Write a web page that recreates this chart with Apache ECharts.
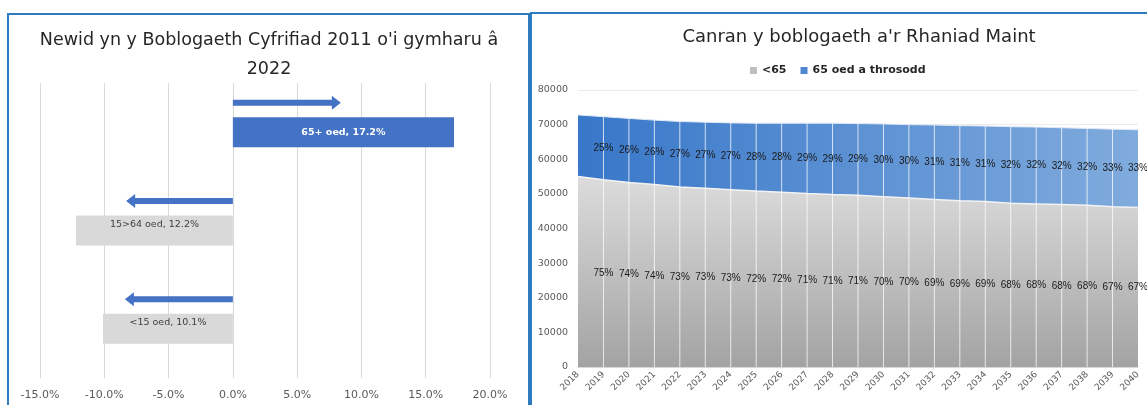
<!DOCTYPE html>
<html>
<head>
<meta charset="utf-8">
<script src="https://cdn.jsdelivr.net/npm/echarts@6/dist/echarts.min.js"></script>
<style>
  html, body { margin: 0; padding: 0; background: #fff; }
  #chart { width: 1147px; height: 405px; }
</style>
</head>
<body>
<div id="chart"></div>
<script>
// left chart: change 2011 -> 2022
const ageGroups = ['65+ oed', '15>64 oed', '<15 oed']
const changePct = [17.2, -12.2, -10.1]
const arrowEnds = [8.4, -8.3, -8.4]

// right chart: projected population
const years = ['2018', '2019', '2020', '2021', '2022', '2023', '2024', '2025', '2026', '2027', '2028', '2029',
  '2030', '2031', '2032', '2033', '2034', '2035', '2036', '2037', '2038', '2039', '2040']
const under65 = [55000, 54100, 53300, 52700, 52000, 51600, 51200, 50800, 50500, 50100, 49800, 49600,
  49200, 48800, 48400, 48000, 47800, 47300, 47100, 46900, 46700, 46300, 46100]
const over65 = [17800, 18200, 18500, 18600, 18900, 19100, 19300, 19600, 19900, 20300, 20600, 20700,
  21000, 21200, 21500, 21700, 21800, 22100, 22200, 22200, 22200, 22400, 22400]
const under65Labels = [null, '75%', '74%', '74%', '73%', '73%', '73%', '72%', '72%', '71%', '71%', '71%',
  '70%', '70%', '69%', '69%', '69%', '68%', '68%', '68%', '68%', '67%', '67%']
const over65Labels = [null, '25%', '26%', '26%', '27%', '27%', '27%', '28%', '28%', '29%', '29%', '29%',
  '30%', '30%', '31%', '31%', '31%', '32%', '32%', '32%', '32%', '33%', '33%']

const FONT = 'DejaVu Sans'
const chart = echarts.init(document.getElementById('chart'))

const barData = changePct.map(function (v, i) {
  const isUp = v > 0
  return {
    value: v,
    itemStyle: { color: isUp ? '#4472c4' : '#d9d9d9' },
    label: {
      show: true,
      position: 'inside',
      offset: isUp ? [0, 0] : [0, -6],
      color: isUp ? '#ffffff' : '#404040',
      fontWeight: isUp ? 'bold' : 'normal',
      fontFamily: FONT,
      fontSize: 9.5,
      formatter: ageGroups[i] + ', ' + Math.abs(v).toFixed(1) + '%',
    },
  }
})

const option = {
  animation: false,
  title: [
    {
      text: "Newid yn y Boblogaeth Cyfrifiad 2011 o'i gymharu â\n2022",
      left: 264,
      top: 21,
      textAlign: 'center',
      textStyle: { fontFamily: FONT, fontSize: 17.5, fontWeight: 'normal', color: '#262626', lineHeight: 29 },
    },
    {
      text: "Canran y boblogaeth a'r Rhaniad Maint",
      left: 854,
      top: 23,
      textAlign: 'center',
      textStyle: { fontFamily: FONT, fontSize: 18, fontWeight: 'normal', color: '#262626' },
    },
  ],
  legend: {
    left: 745,
    top: 60,
    icon: 'rect',
    itemWidth: 7,
    itemHeight: 7,
    itemGap: 14,
    data: ['<65', '65 oed a throsodd'],
    textStyle: { fontFamily: FONT, fontSize: 11, fontWeight: 'bold', color: '#262626' },
  },
  grid: [
    { left: 40, right: 1147 - 490, top: 83, bottom: 405 - 378 },
    { left: 578, right: 9, top: 90, bottom: 38 },
  ],
  xAxis: [
    {
      gridIndex: 0,
      type: 'value',
      min: -15,
      max: 20,
      interval: 5,
      axisLine: { show: false },
      axisTick: { show: false },
      splitLine: { lineStyle: { color: '#d9d9d9' } },
      axisLabel: {
        margin: 12,
        color: '#595959',
        fontFamily: FONT,
        fontSize: 11,
        formatter: function (v) { return v.toFixed(1) + '%' },
      },
    },
    {
      gridIndex: 1,
      type: 'category',
      data: years,
      boundaryGap: false,
      axisLine: { lineStyle: { color: '#d9d9d9' } },
      axisTick: { show: false },
      axisLabel: { rotate: 45, margin: 6, interval: 0, color: '#595959', fontFamily: FONT, fontSize: 9 },
    },
  ],
  yAxis: [
    {
      gridIndex: 0,
      type: 'category',
      data: ageGroups,
      inverse: true,
      axisLine: { show: false },
      axisTick: { show: false },
      axisLabel: { show: false },
    },
    {
      gridIndex: 1,
      type: 'value',
      min: 0,
      max: 80000,
      interval: 10000,
      axisLine: { show: false },
      axisTick: { show: false },
      splitLine: { lineStyle: { color: '#ebebeb' } },
      axisLabel: {
        margin: 10,
        color: '#595959',
        fontFamily: FONT,
        fontSize: 9.5,
        formatter: function (v) { return String(v) },
      },
    },
  ],
  series: [
    {
      name: 'change',
      type: 'bar',
      xAxisIndex: 0,
      yAxisIndex: 0,
      barWidth: 30,
      data: barData,
    },
    {
      name: 'arrows',
      type: 'custom',
      xAxisIndex: 0,
      yAxisIndex: 0,
      data: arrowEnds.map(function (v, i) { return [v, i] }),
      encode: { x: 0, y: 1 },
      renderItem: function (params, api) {
        const start = api.coord([0, api.value(1)])
        const end = api.coord([api.value(0), api.value(1)])
        const band = api.size([0, 1])[1]
        const y = start[1] - band * 0.3
        const dir = end[0] > start[0] ? 1 : -1
        const xb = end[0] - dir * 9
        return {
          type: 'polygon',
          shape: {
            points: [
              [start[0], y - 3], [xb, y - 3], [xb, y - 7], [end[0], y],
              [xb, y + 7], [xb, y + 3], [start[0], y + 3],
            ],
          },
          style: { fill: '#4472c4' },
        }
      },
    },
    {
      name: '<65',
      type: 'line',
      xAxisIndex: 1,
      yAxisIndex: 1,
      stack: 'pop',
      symbol: 'none',
      data: under65,
      itemStyle: { color: '#bfbfbf' },
      lineStyle: { color: '#f2f2f2', width: 1.5 },
      areaStyle: {
        opacity: 1,
        color: new echarts.graphic.LinearGradient(0, 0, 0, 1, [
          { offset: 0, color: '#dcdcdc' },
          { offset: 1, color: '#a3a3a3' },
        ]),
      },
      z: 3,
    },
    {
      name: '65 oed a throsodd',
      type: 'line',
      xAxisIndex: 1,
      yAxisIndex: 1,
      stack: 'pop',
      symbol: 'none',
      data: over65,
      itemStyle: { color: '#4f86d0' },
      lineStyle: { color: '#dfe8f5', width: 1 },
      areaStyle: {
        opacity: 1,
        color: new echarts.graphic.LinearGradient(0, 0, 1, 0, [
          { offset: 0, color: '#3877c9' },
          { offset: 1, color: '#80abdd' },
        ]),
      },
      z: 2,
    },
    {
      name: 'dividers',
      type: 'custom',
      xAxisIndex: 1,
      yAxisIndex: 1,
      data: years.map(function (y, i) { return [i, under65[i] + over65[i]] }),
      encode: { x: 0, y: 1 },
      z: 5,
      renderItem: function (params, api) {
        const i = api.value(0)
        if (i === 0 || i === years.length - 1) return null
        const top = api.coord([i, api.value(1)])
        const bottom = api.coord([i, 0])
        return {
          type: 'line',
          shape: { x1: top[0], y1: top[1], x2: bottom[0], y2: bottom[1] },
          style: { stroke: 'rgba(255,255,255,0.75)', lineWidth: 1 },
        }
      },
    },
    {
      name: 'shares',
      type: 'custom',
      xAxisIndex: 1,
      yAxisIndex: 1,
      data: years.map(function (y, i) { return [i, under65[i], over65[i]] }),
      encode: { x: 0, y: 1 },
      z: 6,
      renderItem: function (params, api) {
        const i = api.value(0)
        if (!under65Labels[i]) return null
        const low = api.value(1)
        const high = api.value(2)
        const p1 = api.coord([i, low / 2])
        const p2 = api.coord([i, low + high / 2])
        const txt = { fontFamily: 'Liberation Sans', fontSize: 10, fill: '#1a1a1a', align: 'center', verticalAlign: 'middle' }
        return {
          type: 'group',
          children: [
            { type: 'text', x: p1[0], y: p1[1], style: Object.assign({ text: under65Labels[i] }, txt) },
            { type: 'text', x: p2[0], y: p2[1], style: Object.assign({ text: over65Labels[i] }, txt) },
          ],
        }
      },
    },
  ],
  graphic: [
    {
      type: 'rect',
      shape: { x: 8, y: 14, width: 521, height: 400 },
      style: { fill: 'none', stroke: '#2e7bbf', lineWidth: 2 },
      z: 10,
    },
    {
      type: 'rect',
      shape: { x: 531, y: 13, width: 630, height: 400 },
      style: { fill: 'none', stroke: '#2e7bbf', lineWidth: 2 },
      z: 10,
    },
  ],
}

chart.setOption(option)
</script>
</body>
</html>
